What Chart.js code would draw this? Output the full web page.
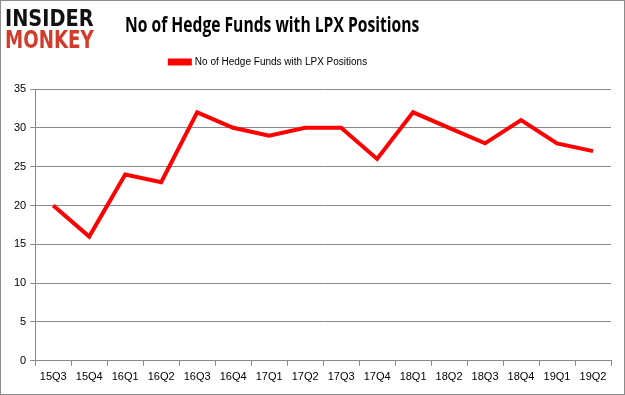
<!DOCTYPE html>
<html>
<head>
<meta charset="utf-8">
<script src="https://cdn.jsdelivr.net/npm/chart.js@4"></script>
<style>
  html, body { margin: 0; padding: 0; background: #fff; }
  #wrap { position: relative; width: 623px; height: 393px; border: 1px solid #8c8c8c; }
  #chart { position: absolute; left: 0; top: 0; }
  .logo { position: absolute; left: 4px; font-family: "DejaVu Sans", sans-serif; font-weight: bold; line-height: 1; transform-origin: left top; white-space: nowrap; }
  #logo1 { top: 6px; font-size: 23px; color: #111; transform: scaleX(0.84); }
  #logo2 { top: 27px; font-size: 24px; color: #d23c2a; transform: scaleX(0.76); }
  #title { position: absolute; left: 124px; top: 9px; font-family: "Open Sans", sans-serif; font-weight: bold; font-size: 21px; color: #000; transform-origin: left top; transform: scaleX(0.745); white-space: nowrap; }
</style>
</head>
<body>
<div id="wrap">
  <canvas id="chart" width="623" height="393"></canvas>
  <div class="logo" id="logo1">INSIDER</div>
  <div class="logo" id="logo2">MONKEY</div>
  <div id="title">No of Hedge Funds with LPX Positions</div>
</div>
<script>
// Données du graphique
const quarters = ['15Q3', '15Q4', '16Q1', '16Q2', '16Q3', '16Q4', '17Q1', '17Q2',
                  '17Q3', '17Q4', '18Q1', '18Q2', '18Q3', '18Q4', '19Q1', '19Q2'];
const hedgeFunds = [20, 16, 24, 23, 32, 30, 29, 30, 30, 26, 32, 30, 28, 31, 28, 27];
const yTicks = [0, 5, 10, 15, 20, 25, 30, 35];

const tickFont = { family: 'Liberation Sans', size: 11 };

// Espace sous la légende + décalage de la légende vers la gauche
const legendSpacer = {
    id: 'legendSpacer',
    beforeInit(chart) {
        const fit = chart.legend.fit;
        chart.legend.fit = function () {
            fit.bind(chart.legend)();
            this.height += 12;
        };
    },
    afterLayout(chart) {
        chart.legend.right -= 84;
    }
};

new Chart(document.getElementById('chart'), {
    type: 'line',
    data: {
        labels: quarters,
        datasets: [{
            label: 'No of Hedge Funds with LPX Positions',
            data: hedgeFunds,
            borderColor: '#ff0000',
            backgroundColor: '#ff0000',
            borderWidth: 4,
            pointRadius: 0,
            tension: 0
        }]
    },
    options: {
        responsive: false,
        animation: false,
        layout: { padding: { top: 46, right: 13, left: 9, bottom: 5 } },
        plugins: {
            legend: {
                labels: {
                    boxWidth: 20,
                    boxHeight: 3,
                    color: '#000',
                    font: { family: 'Liberation Sans', size: 10 },
                    padding: 10
                }
            },
            tooltip: { enabled: false }
        },
        scales: {
            x: {
                offset: true,
                grid: { display: true, offset: true, drawOnChartArea: false, color: '#888', tickLength: 5 },
                border: { color: '#888' },
                ticks: { color: '#000', font: tickFont, maxRotation: 0, autoSkip: false, padding: 5 }
            },
            y: {
                min: 0,
                max: 35,
                afterBuildTicks: (axis) => { axis.ticks = yTicks.map(v => ({ value: v })); },
                grid: { color: '#888', tickLength: 5 },
                border: { color: '#888' },
                ticks: { color: '#000', font: tickFont, padding: 4 }
            }
        }
    },
    plugins: [legendSpacer]
});
</script>
</body>
</html>
